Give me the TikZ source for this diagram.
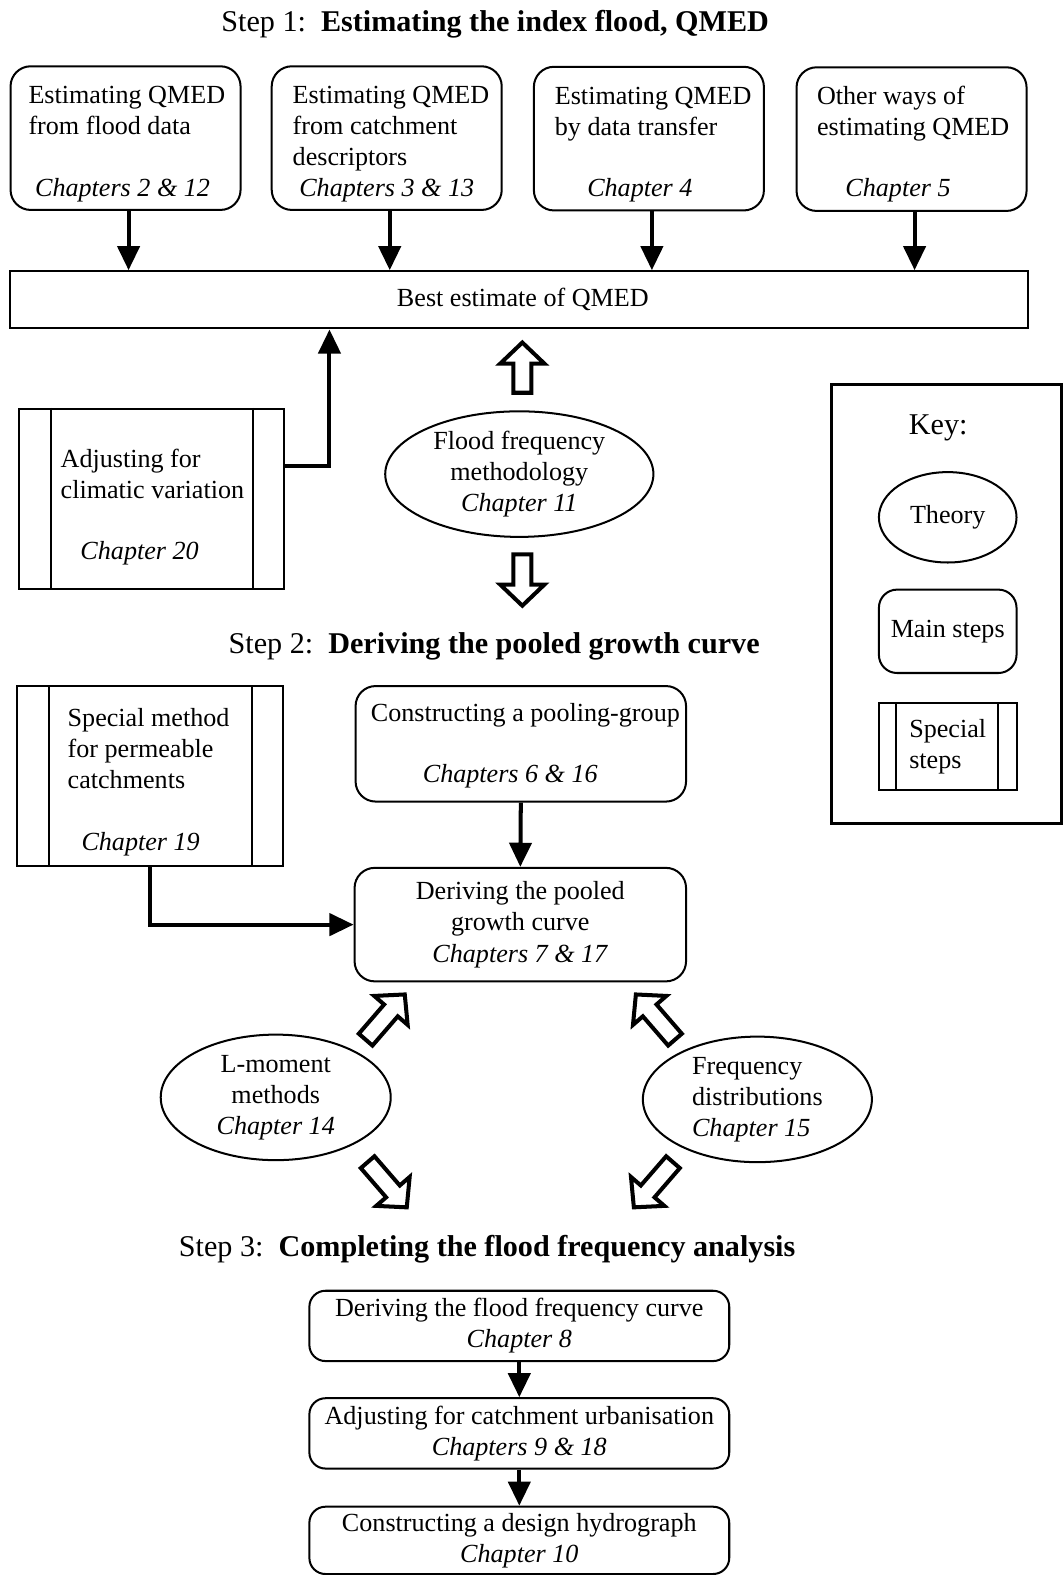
\documentclass[tikz,border=0pt]{standalone}
\usepackage{fontspec}
\setmainfont{Liberation Serif}
\usetikzlibrary{arrows.meta,shapes.geometric}
\newcommand\blockarr[4]{%
  \begin{scope}[shift={(#1,#2)},rotate=#3]
    \draw[line width=2pt,miter limit=10] (0,-9) -- (#4-21,-9) -- (#4-21,-22) -- (#4,0) -- (#4-21,22) -- (#4-21,9) -- (0,9) -- cycle;
  \end{scope}}
\begin{document}
\begin{tikzpicture}[x=0.5pt,y=-0.5pt,
  txt/.style={font=\fontsize{13pt}{15.5pt}\selectfont, inner sep=0pt},
  chap/.style={font=\fontsize{13pt}{15.5pt}\selectfont\itshape, inner sep=0pt},
  ttl/.style={font=\fontsize{15pt}{18pt}\selectfont, inner sep=0pt, anchor=base},
  rbox/.style={draw, line width=1pt, rounded corners=10pt, inner sep=0pt},
  sbox/.style={draw, line width=1pt, inner sep=0pt},
  theory/.style={draw, ellipse, line width=1pt, inner sep=0pt, align=center, txt},
  thk/.style={line width=2pt, -{Triangle[width=11pt,length=12pt]}}
]
\useasboundingbox (0,0) rectangle (1059,1568);

% ---------- Step 1 ----------
\node[ttl] (t1) at (493,31) {Step 1:\ \ \textbf{Estimating the index flood, QMED}};

\node[rbox, minimum width=114.5pt, minimum height=71.5pt] (bA) at (125,137.5) {};
\node[rbox, minimum width=114.5pt, minimum height=71.5pt] (bB) at (385,137.5) {};
\node[rbox, minimum width=114.5pt, minimum height=71.5pt] (bC) at (646,138) {};
\node[rbox, minimum width=114.5pt, minimum height=71.5pt] (bD) at (907.5,138.5) {};

% multi-line nodes: base anchor = baseline of the last line
\node[txt, align=left, anchor=base west] (tA) at (28,134) {Estimating QMED\\from flood data};
\node[chap, anchor=base] (cA) at (122,196) {Chapters 2 \& 12};
\node[txt, align=left, anchor=base west] (tB) at (291,165) {Estimating QMED\\from catchment\\descriptors};
\node[chap, anchor=base] (cB) at (385,196) {Chapters 3 \& 13};
\node[txt, align=left, anchor=base west] (tC) at (552,135) {Estimating QMED\\by data transfer};
\node[chap, anchor=base] (cC) at (637,196) {Chapter 4};
\node[txt, align=left, anchor=base west] (tD) at (813,135) {Other ways of\\estimating QMED};
\node[chap, anchor=base] (cD) at (894,196) {Chapter 5};

\node[sbox, txt, minimum width=506.5pt, minimum height=28.5pt] (best) at (516.5,298.5) {\hspace*{4pt}Best estimate of QMED};

\foreach \b in {bA,bB,bC,bD}
  \draw[thk] ([xshift=1.5pt]\b.south) -- ([xshift=1.5pt]\b.south |- best.north);

% climatic variation
\node[sbox, minimum width=132pt, minimum height=89.5pt] (clim) at (151,496.5) {};
\draw[line width=1pt] ([xshift=16.5pt]clim.north west) -- ([xshift=16.5pt]clim.south west);
\draw[line width=1pt] ([xshift=-16pt]clim.north east) -- ([xshift=-16pt]clim.south east);
\node[txt, align=left, anchor=base west] (tclim) at (60,496) {Adjusting for\\climatic variation};
\node[chap, anchor=base] (cclim) at (139,557) {Chapter 20};
\draw[thk] (clim.east |- 0,464) -| (best.south -| 328,0);

% methodology
\node[theory, minimum width=133.5pt, minimum height=62.5pt] (meth) at (517,472) {Flood frequency\\methodology\\\textit{Chapter 11}};
\blockarr{520}{391}{90}{50}
\blockarr{520}{552}{-90}{51}

% ---------- Key ----------
\node[draw, line width=1.5pt, minimum width=114.5pt, minimum height=218.5pt, inner sep=0pt] (key) at (942.5,601.5) {};
\node[ttl] (keyt) at (934,433) {Key:};
\node[theory, minimum width=68.5pt, minimum height=45pt] (kth) at (943.5,515) {Theory};
\node[rbox, txt, minimum width=68.5pt, minimum height=41.5pt, rounded corners=9pt] (kms) at (943.5,628.5) {Main steps};
\node[sbox, txt, align=left, minimum width=68.5pt, minimum height=43pt] (kss) at (943.5,743) {Special\\steps};
\draw[line width=1pt] ([xshift=9pt]kss.north west) -- ([xshift=9pt]kss.south west);
\draw[line width=1pt] ([xshift=-9.5pt]kss.north east) -- ([xshift=-9.5pt]kss.south east);

% ---------- Step 2 ----------
\node[ttl] (t2) at (492,651) {Step 2:\ \ \textbf{Deriving the pooled growth curve}};

\node[sbox, minimum width=132.5pt, minimum height=89.5pt] (spec) at (149.5,772.5) {};
\draw[line width=1pt] ([xshift=16.5pt]spec.north west) -- ([xshift=16.5pt]spec.south west);
\draw[line width=1pt] ([xshift=-16pt]spec.north east) -- ([xshift=-16pt]spec.south east);
\node[txt, align=left, anchor=base west] (tspec) at (67,785) {Special method\\for permeable\\catchments};
\node[chap, anchor=base] (cspec) at (140,847) {Chapter 19};

\node[rbox, minimum width=164.5pt, minimum height=57.5pt] (pool) at (518.5,740.5) {};
\node[txt, anchor=base] (tpool) at (523,718) {Constructing a pooling-group};
\node[chap, anchor=base] (cpool) at (508,779) {Chapters 6 \& 16};

\node[rbox, txt, align=center, minimum width=165pt, minimum height=56.5pt] (deriv) at (518,920.5) {Deriving the pooled\\growth curve\\\textit{Chapters 7 \& 17}};

\draw[thk] (pool.south) -- (deriv.north);
\draw[thk] (spec.south) |- (deriv.west);

\node[theory, minimum width=114.5pt, minimum height=62.5pt] (lmom) at (274.5,1092.5) {L-moment\\methods\\\textit{Chapter 14}};
\node[theory, align=left, minimum width=114pt, minimum height=62.5pt] (freq) at (754,1094.5) {Frequency\\distributions\\\textit{Chapter 15}};

\blockarr{364}{1035}{49.1}{59.5}
\blockarr{366}{1157}{-49.1}{59.5}
\blockarr{672}{1035}{130.9}{59.5}
\blockarr{670}{1157}{-130.9}{59.5}

% ---------- Step 3 ----------
\node[ttl] (t3) at (485,1251) {Step 3:\ \ \textbf{Completing the flood frequency analysis}};

\node[rbox, txt, align=center, rounded corners=8pt, minimum width=209pt, minimum height=35pt] (s3a) at (517,1320) {Deriving the flood frequency curve\\\textit{Chapter 8}};
\node[rbox, txt, align=center, rounded corners=8pt, minimum width=209pt, minimum height=35pt] (s3b) at (517,1427) {Adjusting for catchment urbanisation\\\textit{Chapters 9 \& 18}};
\node[rbox, txt, align=center, rounded corners=8pt, minimum width=209pt, minimum height=33.5pt] (s3c) at (517,1533.5) {Constructing a design hydrograph\\\textit{Chapter 10}};

\draw[thk] (s3a.south) -- (s3b.north);
\draw[thk] (s3b.south) -- (s3c.north);
\end{tikzpicture}
\end{document}
